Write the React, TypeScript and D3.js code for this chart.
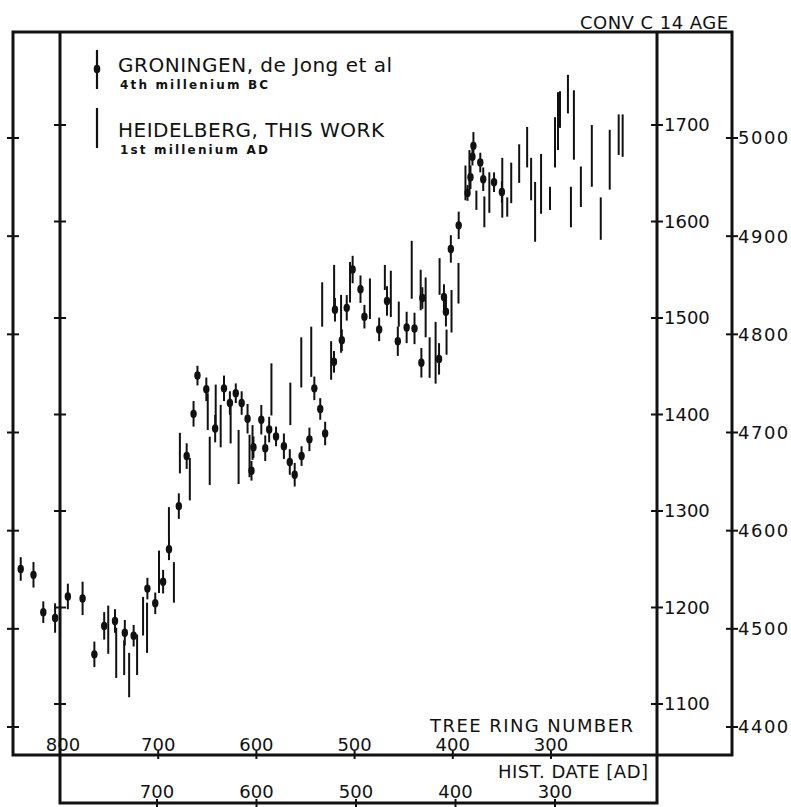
import { useEffect, useRef } from "react";
import * as d3 from "d3";

// Heidelberg, 1st millennium AD: [hist. date AD, conv. C14 age, 1 sigma]
const heidelberg: [number, number, number][] = [
  [749, 1177, 25], [741, 1153, 26], [733, 1148, 18], [728, 1130, 23], [720, 1151, 21],
  [714, 1191, 20], [710, 1179, 26], [698, 1237, 22], [688, 1287, 17], [683, 1226, 21],
  [677, 1360, 21], [667, 1333, 22], [649, 1403, 19], [647, 1352, 25], [641, 1410, 21],
  [636, 1388, 22], [626, 1389, 19], [618, 1356, 28], [607, 1357, 22], [604, 1371, 18],
  [585, 1426, 27], [566, 1411, 22], [555, 1454, 26], [545, 1465, 26], [534, 1514, 23],
  [525, 1456, 20], [522, 1532, 23], [515, 1494, 30], [506, 1537, 21], [486, 1520, 21],
  [471, 1542, 13], [465, 1525, 24], [457, 1504, 13], [444, 1550, 30], [435, 1529, 21],
  [430, 1511, 31], [426, 1459, 21], [420, 1464, 32], [416, 1543, 19], [409, 1475, 13],
  [404, 1507, 22], [397, 1536, 21], [390, 1640, 18], [386, 1653, 21], [379, 1622, 10],
  [371, 1610, 16], [366, 1630, 21], [353, 1635, 31], [348, 1615, 10], [344, 1640, 21],
  [336, 1660, 20], [328, 1677, 21], [324, 1644, 22], [320, 1610, 31], [314, 1639, 31],
  [305, 1624, 12], [300, 1682, 26], [297, 1704, 30], [295, 1716, 19], [287, 1732, 20],
  [284, 1615, 21], [281, 1700, 36], [274, 1636, 21], [263, 1668, 32], [254, 1603, 22],
  [245, 1664, 31], [236, 1690, 21], [232, 1689, 22],
];

// Groningen (de Jong et al), 4th millennium BC: [tree ring number, conv. C14 age, 1 sigma]
const groningen: [number, number, number][] = [
  [840, 4561, 12], [827, 4555, 13], [817, 4517, 11], [805, 4511, 15], [792, 4533, 13],
  [777, 4531, 17], [765, 4474, 13], [755, 4503, 14], [744, 4508, 12], [734, 4496, 13],
  [725, 4493, 11], [711, 4541, 11], [703, 4526, 11], [695, 4548, 12], [689, 4581, 11],
  [679, 4625, 13], [671, 4676, 13], [664, 4719, 13], [660, 4758, 10], [651, 4744, 12],
  [642, 4704, 14], [633, 4745, 13], [627, 4730, 12], [621, 4740, 10], [615, 4730, 12],
  [609, 4714, 15], [605, 4661, 10], [603, 4685, 11], [595, 4713, 15], [591, 4684, 13],
  [587, 4703, 13], [580, 4696, 10], [572, 4686, 13], [566, 4670, 13], [561, 4657, 12],
  [554, 4676, 10], [546, 4693, 12], [541, 4745, 12], [535, 4724, 11], [530, 4699, 12],
  [521, 4772, 11], [520, 4825, 12], [513, 4794, 11], [508, 4827, 13], [502, 4866, 14],
  [494, 4846, 14], [490, 4818, 12], [475, 4805, 12], [467, 4834, 15], [456, 4793, 15],
  [447, 4807, 16], [439, 4806, 16], [432, 4771, 15], [431, 4837, 11], [414, 4775, 16],
  [409, 4838, 13], [407, 4823, 15], [402, 4887, 14], [394, 4911, 14], [385, 4944, 8],
  [382, 4960, 12], [380, 4981, 9], [379, 4992, 14], [372, 4975, 10], [369, 4958, 12],
  [358, 4955, 10], [350, 4945, 11],
];

const ringTicks = [800, 700, 600, 500, 400, 300];
const dateTicks = [700, 600, 500, 400, 300];
const adAgeTicks = [1100, 1200, 1300, 1400, 1500, 1600, 1700];
const bcAgeTicks = [4400, 4500, 4600, 4700, 4800, 4900, 5000];

export default function App() {
  const ref = useRef<SVGSVGElement | null>(null);

  useEffect(() => {
    if (!ref.current) return;

    const width = 791;
    const height = 807;
    const font = "'DejaVu Sans', sans-serif";
    const ink = "#111";

    // frame lines
    const L = 13, I = 60, R = 657, O = 732, T = 32, B1 = 755, B2 = 803;

    const svg = d3.select(ref.current);
    svg.selectAll("*").remove();
    svg
      .attr("width", width)
      .attr("height", height)
      .style("position", "absolute")
      .style("left", "0px")
      .style("top", "0px")
      .style("background", "#fff");

    const xRing = d3.scaleLinear().domain([800, 300]).range([60, 551]);
    const xDate = d3.scaleLinear().domain([700, 300]).range([157, 555]);
    const yAD = d3.scaleLinear().domain([1100, 1700]).range([704, 125]);
    const yBC = d3.scaleLinear().domain([4400, 5000]).range([727, 138]);

    const frame = svg.append("g").attr("fill", "none").attr("stroke", ink).attr("stroke-width", 3);
    frame.append("path").attr("d", `M${L},${B1}V${T}H${O}V${B1}Z`);
    frame.append("path").attr("d", `M${I},${T}V${B2}H${R}V${T}`);

    const ticks = svg.append("g").attr("stroke", ink).attr("stroke-width", 2);
    // vertical axes ticks
    ticks.selectAll(".tl").data(bcAgeTicks).join("line")
      .attr("x1", L - 6).attr("x2", L + 6).attr("y1", (d) => yBC(d)).attr("y2", (d) => yBC(d));
    ticks.selectAll(".tr2").data(bcAgeTicks).join("line")
      .attr("x1", O - 6).attr("x2", O + 6).attr("y1", (d) => yBC(d)).attr("y2", (d) => yBC(d));
    ticks.selectAll(".ti").data(adAgeTicks).join("line")
      .attr("x1", I - 6).attr("x2", I + 6).attr("y1", (d) => yAD(d)).attr("y2", (d) => yAD(d));
    ticks.selectAll(".tr").data(adAgeTicks).join("line")
      .attr("x1", R - 6).attr("x2", R + 6).attr("y1", (d) => yAD(d)).attr("y2", (d) => yAD(d));
    // horizontal axes ticks
    ticks.selectAll(".tb1").data(ringTicks).join("line")
      .attr("x1", (d) => xRing(d)).attr("x2", (d) => xRing(d)).attr("y1", B1 - 4).attr("y2", B1 + 4);
    ticks.selectAll(".tb2").data(dateTicks).join("line")
      .attr("x1", (d) => xDate(d)).attr("x2", (d) => xDate(d)).attr("y1", B2 - 4).attr("y2", B2 + 4);

    const text = svg.append("g").attr("fill", ink).style("font-family", font);

    text.selectAll(".lr").data(adAgeTicks).join("text")
      .attr("x", R + 7).attr("y", (d) => yAD(d)).attr("dy", "0.36em")
      .style("font-size", "18px").text((d) => d);
    text.selectAll(".lo").data(bcAgeTicks).join("text")
      .attr("x", O + 6).attr("y", (d) => yBC(d)).attr("dy", "0.36em")
      .style("font-size", "18px").style("letter-spacing", "1.5px").text((d) => d);
    text.selectAll(".lb1").data(ringTicks).join("text")
      .attr("x", (d) => xRing(d) + (d === 800 ? 3 : 0)).attr("y", B1 - 4)
      .attr("text-anchor", "middle").style("font-size", "18px").text((d) => d);
    text.selectAll(".lb2").data(dateTicks).join("text")
      .attr("x", (d) => xDate(d)).attr("y", B2 - 5)
      .attr("text-anchor", "middle").style("font-size", "18px").text((d) => d);

    text.append("text").attr("x", 728).attr("y", 29).attr("text-anchor", "end")
      .attr("textLength", 148).style("font-size", "18px").text("CONV C 14 AGE");
    text.append("text").attr("x", 430).attr("y", 732)
      .attr("textLength", 203).style("font-size", "18px").text("TREE RING NUMBER");
    text.append("text").attr("x", 498).attr("y", 778)
      .attr("textLength", 150).style("font-size", "18px").text("HIST. DATE [AD]");

    // legend
    const leg = svg.append("g");
    leg.append("line").attr("x1", 97).attr("x2", 97).attr("y1", 50).attr("y2", 89)
      .attr("stroke", ink).attr("stroke-width", 2.2);
    leg.append("ellipse").attr("cx", 97).attr("cy", 69).attr("rx", 3.3).attr("ry", 4.3).attr("fill", ink);
    leg.append("line").attr("x1", 97).attr("x2", 97).attr("y1", 108).attr("y2", 148)
      .attr("stroke", ink).attr("stroke-width", 2.2);
    text.append("text").attr("x", 118).attr("y", 72).attr("textLength", 274)
      .style("font-size", "20px").text("GRONINGEN, de Jong et al");
    text.append("text").attr("x", 120).attr("y", 89).attr("textLength", 148)
      .style("font-size", "12px").style("font-weight", "bold").text("4th millenium  BC");
    text.append("text").attr("x", 118).attr("y", 137).attr("textLength", 266)
      .style("font-size", "20px").text("HEIDELBERG, THIS WORK");
    text.append("text").attr("x", 120).attr("y", 154).attr("textLength", 148)
      .style("font-size", "12px").style("font-weight", "bold").text("1st millenium  AD");

    // Heidelberg bars
    svg.append("g").attr("stroke", ink).attr("stroke-width", 2)
      .selectAll("line").data(heidelberg).join("line")
      .attr("x1", (d) => xDate(d[0])).attr("x2", (d) => xDate(d[0]))
      .attr("y1", (d) => yAD(d[1] - d[2])).attr("y2", (d) => yAD(d[1] + d[2]));

    // Groningen points with bars
    const g = svg.append("g");
    g.append("g").attr("stroke", ink).attr("stroke-width", 2)
      .selectAll("line").data(groningen).join("line")
      .attr("x1", (d) => xRing(d[0])).attr("x2", (d) => xRing(d[0]))
      .attr("y1", (d) => yBC(d[1] - d[2])).attr("y2", (d) => yBC(d[1] + d[2]));
    g.append("g").attr("fill", ink)
      .selectAll("ellipse").data(groningen).join("ellipse")
      .attr("cx", (d) => xRing(d[0])).attr("cy", (d) => yBC(d[1]))
      .attr("rx", 3.2).attr("ry", 4.2);
  }, []);

  return <svg ref={ref} />;
}
